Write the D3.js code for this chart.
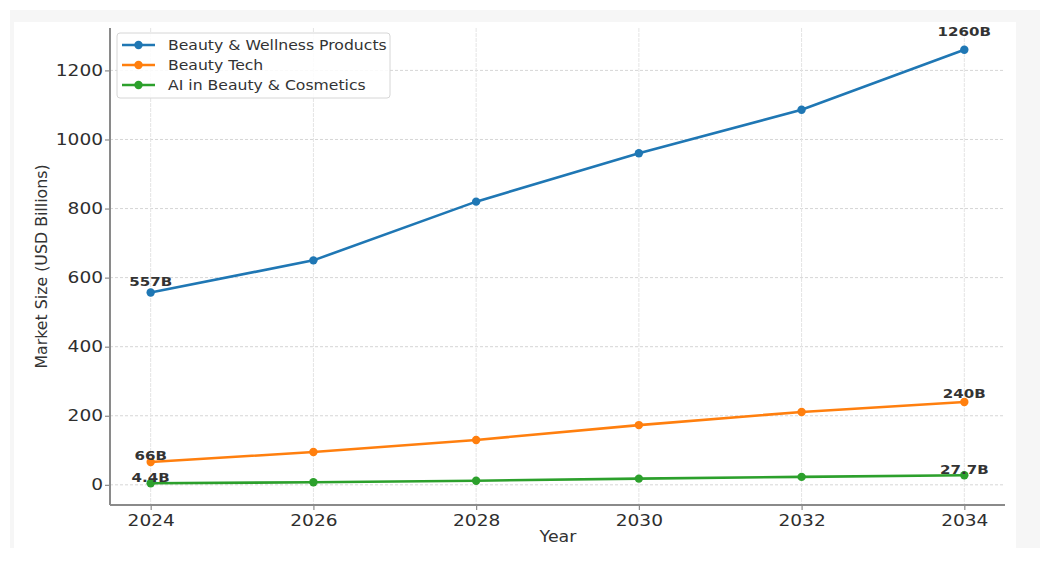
<!DOCTYPE html>
<html>
<head>
<meta charset="utf-8">
<script src="https://cdn.jsdelivr.net/npm/d3@7"></script>
<style>
  html, body { margin: 0; padding: 0; background: #ffffff; }
  svg { display: block; }
  text { font-family: "DejaVu Sans", sans-serif; }
</style>
</head>
<body>
<svg id="chart" width="1043" height="561"></svg>
<script>
// Market size projections, USD billions
const years = [2024, 2026, 2028, 2030, 2032, 2034];
const wellness = [557, 650, 820, 960, 1086, 1260];
const beautyTech = [66, 95, 130, 173, 211, 240];
const aiBeauty = [4.4, 7.5, 12, 18, 23, 27.7];
const seriesNames = ["Beauty & Wellness Products", "Beauty Tech", "AI in Beauty & Cosmetics"];
const yTicks = [0, 200, 400, 600, 800, 1000, 1200];
const xTicks = [2024, 2026, 2028, 2030, 2032, 2034];

const colors = ["#1f77b4", "#ff7f0e", "#2ca02c"];
const allSeries = [wellness, beautyTech, aiBeauty];

const svg = d3.select("#chart");

// horizontally widened lettering, anchored on the text's own x/y
const WIDE = 1.16;
function widen(sel) {
  sel.each(function () {
    const t = d3.select(this);
    const ax = +t.attr("x") || 0, ay = +t.attr("y") || 0;
    t.attr("transform", `translate(${ax},${ay}) scale(${WIDE},1) translate(${-ax},${-ay})`);
  });
  return sel;
}

// figure frame
svg.append("rect").attr("x", 10).attr("y", 10).attr("width", 1030).attr("height", 538).attr("fill", "#f6f6f6");
svg.append("rect").attr("x", 14).attr("y", 22).attr("width", 1002).attr("height", 526).attr("fill", "#ffffff");

const plotL = 110, plotR = 1005, plotT = 28, plotB = 505;

// 5% padding on both axes
const allVals = allSeries.flat();
const yMin = d3.min(allVals), yMax = d3.max(allVals);
const yPad = (yMax - yMin) * 0.05;
const y = d3.scaleLinear().domain([yMin - yPad, yMax + yPad]).range([plotB, plotT]);
const xPad = (d3.max(years) - d3.min(years)) * 0.05;
const x = d3.scaleLinear().domain([d3.min(years) - xPad, d3.max(years) + xPad]).range([plotL, plotR]);

// grid
const grid = svg.append("g");
grid.selectAll("line.h").data(yTicks).join("line")
  .attr("x1", plotL).attr("x2", plotR)
  .attr("y1", d => y(d)).attr("y2", d => y(d))
  .attr("stroke", "#d6d6d6").attr("stroke-width", 1).attr("stroke-dasharray", "3,2");
grid.selectAll("line.v").data(xTicks).join("line")
  .attr("x1", d => x(d)).attr("x2", d => x(d))
  .attr("y1", plotT).attr("y2", plotB)
  .attr("stroke", "#e4e4e4").attr("stroke-width", 1).attr("stroke-dasharray", "4,1");

// axes
const yAxis = svg.append("g").attr("transform", `translate(${plotL},0)`)
  .call(d3.axisLeft(y).tickValues(yTicks).tickFormat(d3.format("d")).tickSize(5).tickPadding(2));
const xAxis = svg.append("g").attr("transform", `translate(0,${plotB})`)
  .call(d3.axisBottom(x).tickValues(xTicks).tickFormat(d3.format("d")).tickSize(5).tickPadding(5));
[yAxis, xAxis].forEach(a => {
  a.select(".domain").attr("stroke", "#8a8a8a").attr("stroke-width", 2);
  a.selectAll(".tick line").attr("stroke", "#8a8a8a").attr("stroke-width", 1.2);
  a.selectAll(".tick text").attr("fill", "#2e2e2e").style("font-size", "16px").style("font-family", "DejaVu Sans");
  widen(a.selectAll(".tick text"));
});
yAxis.select(".domain").attr("d", `M0,${plotT}V${plotB}`);
xAxis.select(".domain").attr("d", `M${plotL},0H${plotR}`);

// axis titles
widen(svg.append("text").attr("x", 558).attr("y", 542).attr("text-anchor", "middle")
  .attr("fill", "#333").style("font-size", "15px").text("Year"));
svg.append("text").attr("transform", `translate(47,${(plotT + plotB) / 2}) rotate(-90)`)
  .attr("text-anchor", "middle").attr("fill", "#333").style("font-size", "15.8px")
  .text("Market Size (USD Billions)");

// lines and markers
const line = d3.line().x((d, i) => x(years[i])).y(d => y(d));
allSeries.forEach((vals, si) => {
  svg.append("path").datum(vals).attr("d", line)
    .attr("fill", "none").attr("stroke", colors[si]).attr("stroke-width", 2.6);
  svg.selectAll(null).data(vals).join("circle")
    .attr("cx", (d, i) => x(years[i])).attr("cy", d => y(d)).attr("r", 4.2)
    .attr("fill", colors[si]);
});

// end-point value labels
const fmt = v => (Number.isInteger(v) ? v : v.toFixed(1)) + "B";
allSeries.forEach(vals => {
  [0, vals.length - 1].forEach(i => {
    widen(svg.append("text").attr("x", x(years[i])).attr("y", y(vals[i] * 1.03) - 1)
      .attr("text-anchor", "middle").attr("fill", "#333")
      .style("font-size", "13px").style("font-weight", "bold").text(fmt(vals[i])));
  });
});

// legend
const lg = svg.append("g").attr("transform", "translate(117,33)");
lg.append("rect").attr("width", 273).attr("height", 65).attr("rx", 3)
  .attr("fill", "rgba(255,255,255,0.85)").attr("stroke", "#d6d6d6");
seriesNames.forEach((name, i) => {
  const cy = 12 + i * 20;
  lg.append("line").attr("x1", 5).attr("x2", 38).attr("y1", cy).attr("y2", cy)
    .attr("stroke", colors[i]).attr("stroke-width", 2.6);
  lg.append("circle").attr("cx", 21.5).attr("cy", cy).attr("r", 4.2).attr("fill", colors[i]);
  widen(lg.append("text").attr("x", 51).attr("y", cy + 5).attr("fill", "#333")
    .style("font-size", "13.5px").text(name));
});
</script>
</body>
</html>
